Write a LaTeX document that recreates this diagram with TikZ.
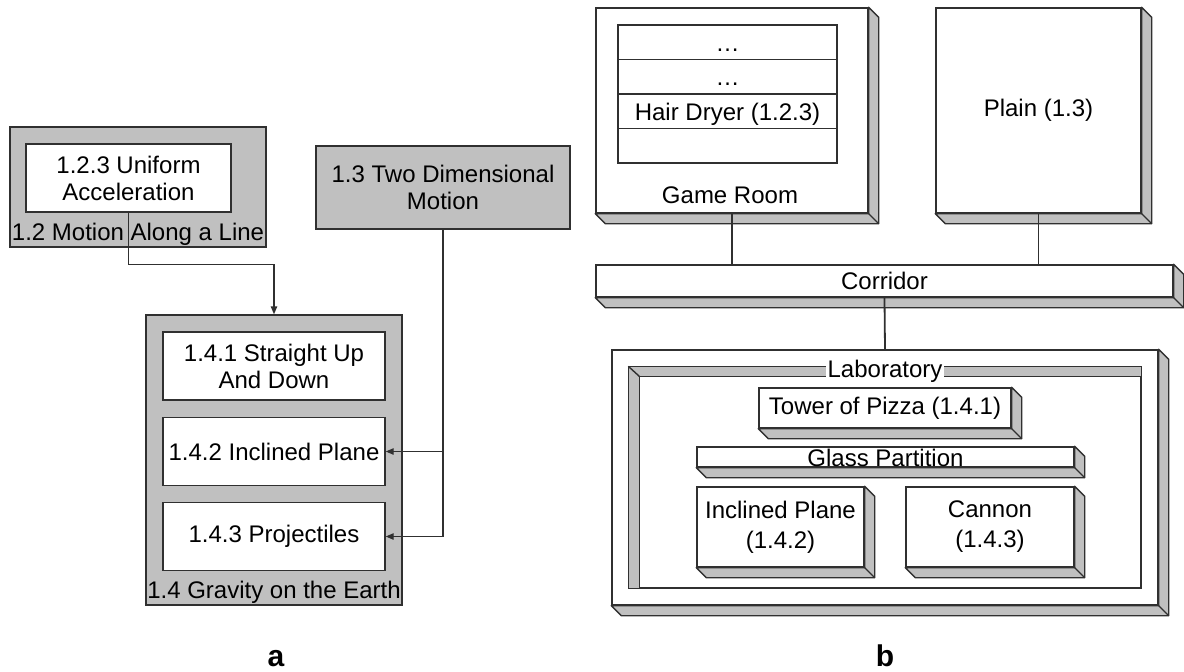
\documentclass[tikz,border=0pt]{standalone}
\usepackage{fontspec}
\setmainfont{Liberation Sans}
\usepackage{tikz}
\usetikzlibrary{arrows.meta}
\usetikzlibrary{calc}

\definecolor{edge}{HTML}{303030}
\definecolor{shade}{HTML}{C0C0C0}

\tikzset{
  every node/.style={font=\fontsize{12}{13.5}\selectfont},
  section/.style={draw=edge,fill=shade,line width=0.7pt,inner sep=2pt},
  topic/.style={draw=edge,fill=white,align=center,line width=0.7pt,inner sep=2pt},
  room/.style={draw=edge,fill=white,align=center,line width=0.7pt,inner sep=2pt},
  shelf/.style={room,text height=10pt,text depth=1pt},
  link/.style={draw=edge,line width=0.7pt},
  wire/.style={draw=edge,line width=0.9pt},
  flow/.style={link,-{Triangle[length=4pt,width=3.2pt]}},
  caption/.style={font=\fontsize{15}{17}\selectfont\bfseries,inner sep=0pt}
}

\begin{document}
\begin{tikzpicture}[x=0.5pt,y=-0.5pt]
  \useasboundingbox (0,0) rectangle (1184,671);

  % (a) topic map
  \node[section,minimum width=128pt,minimum height=60pt] (sec12) at (138,187) {};
  \node[topic,minimum width=102.5pt,minimum height=34pt] (sub123) at (128.5,178) {1.2.3 Uniform\\Acceleration};
  \node (lab12) at (138,234) {1.2 Motion Along a Line};
  \node[section,align=center,minimum width=127pt,minimum height=41.5pt] (sec13) at (443,187.5) {1.3 Two Dimensional\\Motion};
  \node[section,minimum width=128pt,minimum height=145pt] (sec14) at (274,460) {};
  \node[topic,minimum width=111pt,minimum height=34pt] (sub141) at (274,366) {1.4.1 Straight Up\\And Down};
  \node[topic,minimum width=111pt,minimum height=34pt] (sub142) at (274,451.5) {1.4.2 Inclined Plane};
  \node[topic,minimum width=111pt,minimum height=34pt] (sub143) at (274,536.5) {1.4.3 Projectiles};
  \node (lab14) at (274,592) {1.4 Gravity on the Earth};

  \draw[flow] (sub123.south) -- ++(0,52) -| (sec14.north);
  \draw[flow] (sec13.south) -- (sec13.south |- sub143.east) -- (sub143.east);
  \draw[flow] (sec13.south |- sub142.east) -- (sub142.east);

  % (b) rooms
  \node[room,minimum width=136pt,minimum height=102.5pt] (game) at (732,110.5) {};
  \node[shelf,minimum width=109.5pt,minimum height=17.25pt] (shelf1) at (727.5,42.25) {…};
  \node[shelf,minimum width=109.5pt,minimum height=17.25pt] (shelf2) at (727.5,76.75) {…};
  \node[shelf,minimum width=109.5pt,minimum height=17.25pt] (shelf3) at (727.5,111.25) {Hair Dryer (1.2.3)};
  \node[shelf,minimum width=109.5pt,minimum height=17.25pt] (shelf4) at (727.5,145.75) {};
  \node (gameroom) at (730,195) {Game Room};
  \node[room,minimum width=102.5pt,minimum height=102.5pt] (plain) at (1038.5,110.5) {Plain (1.3)};
  \node[room,minimum width=288.5pt,minimum height=16pt] (corridor) at (884.5,281) {Corridor};
  \node[room,minimum width=273pt,minimum height=127.5pt] (lab) at (885,477.5) {};
  \node[room,minimum width=256pt,minimum height=110.5pt] (frame) at (885,477.5) {};
  \node[room,minimum width=126pt,minimum height=20pt] (tower) at (885,408) {Tower of Pizza (1.4.1)};
  \node[room,minimum width=188.5pt,minimum height=10pt] (glass) at (885.5,457) {};
  \node[anchor=base] (glasslabel) at (885.5,466) {Glass Partition};
  \node[room,minimum width=83.5pt,minimum height=40pt,font=\fontsize{12}{15}\selectfont] (incl) at (780.5,527) {Inclined Plane\\(1.4.2)};
  \node[room,minimum width=84pt,minimum height=40pt,font=\fontsize{12}{15}\selectfont] (cannon) at (990,527) {Cannon\\(1.4.3)};

  % depth of the slabs
  \foreach \n in {game,plain,corridor,lab,tower,glass,incl,cannon} {
    \filldraw[fill=shade,draw=edge,line width=0.7pt,line join=round]
      (\n.south west) -- ([shift={(10,10)}]\n.south west) -- ([shift={(10,10)}]\n.south east)
      -- ([shift={(10,10)}]\n.north east) -- (\n.north east) -- (\n.south east) -- cycle;
    \draw[link] (\n.south east) -- ([shift={(10,10)}]\n.south east);
  }

  % recessed rim of the laboratory
  \filldraw[fill=shade,draw=edge,line width=0.7pt]
    (frame.north west) -- (frame.north east) -- ([shift={(0,10)}]frame.north east)
    -- ([shift={(11,10)}]frame.north west) -- ([shift={(11,0)}]frame.south west)
    -- (frame.south west) -- cycle;
  \draw[link] (frame.north west) -- ([shift={(11,10)}]frame.north west);
  \node[fill=white,inner sep=1pt] (lablabel) at (885,371) {Laboratory};

  \draw[wire] (game.south) -- (game.south |- corridor.north);
  \draw[wire] (plain.south) -- (plain.south |- corridor.north);
  \draw[wire] (corridor.south) -- (lab.north);

  \node[caption,anchor=base] (capa) at (276,666) {a};
  \node[caption,anchor=base] (capb) at (885,666) {b};
\end{tikzpicture}
\end{document}
